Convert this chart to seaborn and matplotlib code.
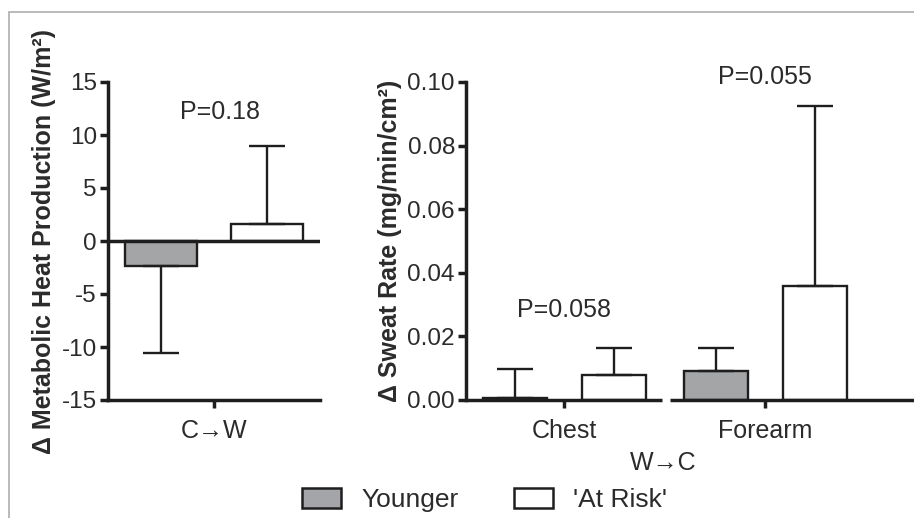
import numpy as np
import pandas as pd
import matplotlib
matplotlib.use("Agg")
import matplotlib.pyplot as plt
import seaborn as sns
from matplotlib.patches import Patch, Rectangle

# data
groups = ["Younger", "'At Risk'"]
heat_cond = ["C\u2192W"]
heat_mean = [-2.4, 1.6]          # Younger, At Risk
heat_err = [8.2, 7.4]
sweat_sites = ["Chest", "Forearm"]
sweat_young = [0.0005, 0.0090]
sweat_risk = [0.0080, 0.0360]
sweat_young_err = [0.0093, 0.0075]
sweat_risk_err = [0.0085, 0.0565]
p_heat = ["P=0.18"]
p_sweat = ["P=0.058", "P=0.055"]

sns.set_style("ticks")
plt.rcParams['font.family'] = ['Liberation Sans', 'DejaVu Sans']
plt.rcParams['axes.unicode_minus'] = False
txt = '#2b2b2b'
ink = '#1e1e1e'
gray = '#a3a5a8'
palette = {groups[0]: gray, groups[1]: 'white'}

fig = plt.figure(figsize=(9.14, 5.18), dpi=100)
fig.patch.set_facecolor('white')
W, H = 914, 518

def px_axes(x0, y0, x1, y1):
    return fig.add_axes([x0 / W, 1 - y1 / H, (x1 - x0) / W, (y1 - y0) / H])

ax1 = px_axes(108, 82, 320, 400)
ax2 = px_axes(466, 82, 914, 400)

heat_df = pd.DataFrame({'cond': heat_cond * 2, 'group': groups,
                        'val': heat_mean, 'err': heat_err})
sweat_df = pd.DataFrame({'site': sweat_sites * 2,
                         'group': [groups[0]] * 2 + [groups[1]] * 2,
                         'val': sweat_young + sweat_risk,
                         'err': sweat_young_err + sweat_risk_err})

sns.barplot(data=heat_df, x='cond', y='val', hue='group', hue_order=groups,
            palette=palette, errorbar=None, width=1.0, gap=0.32,
            edgecolor=ink, linewidth=1.7, legend=False, ax=ax1)
sns.barplot(data=sweat_df, x='site', y='val', hue='group', hue_order=groups,
            palette=palette, errorbar=None, width=0.98, gap=0.35,
            edgecolor=ink, linewidth=1.7, legend=False, ax=ax2)

def one_sided(ax, df, key, order):
    for cont, g in zip(ax.containers, groups):
        sub = df[df['group'] == g].set_index(key).loc[order]
        for bar, v, e in zip(cont, sub['val'], sub['err']):
            xc = bar.get_x() + bar.get_width() / 2
            yerr = [[e], [0]] if v < 0 else [[0], [e]]
            ax.errorbar(xc, v, yerr=yerr, fmt='none', ecolor=ink,
                        elinewidth=1.7, capsize=13, capthick=1.7, zorder=1)

one_sided(ax1, heat_df, 'cond', heat_cond)
one_sided(ax2, sweat_df, 'site', sweat_sites)

for ax in (ax1, ax2):
    ax.set_facecolor('none')
    sns.despine(ax=ax)
    for s in ('left', 'bottom'):
        ax.spines[s].set_linewidth(2.5)
        ax.spines[s].set_color(ink)
    ax.tick_params(axis='both', width=2.5, length=6, color=ink,
                   labelcolor=txt, pad=2)
    ax.tick_params(axis='y', labelsize=17.5)
    ax.tick_params(axis='x', labelsize=18, pad=8)
    ax.set_xlabel('')

ax1.set_xlim(-0.5, 0.5)
ax1.set_ylim(-15, 15)
ax1.set_yticks([-15, -10, -5, 0, 5, 10, 15])
ax1.axhline(0, color=ink, lw=2.5, zorder=3)
ax1.set_ylabel('\u0394 Metabolic Heat Production (W/m\u00b2)', fontsize=18,
               fontweight='bold', color=txt, labelpad=4)
ax1.text(0.03, 12.2, p_heat[0], ha='center', va='center', fontsize=18, color=txt)

ax2.set_xlim(-0.49, 1.74)
ax2.set_ylim(0, 0.10)
ax2.set_yticks(np.arange(0, 0.101, 0.02))
ax2.yaxis.set_major_formatter(matplotlib.ticker.FormatStrFormatter('%.2f'))
ax2.spines['bottom'].set_visible(False)
for seg in ((-0.49, 0.485), (0.525, 1.74)):
    ax2.plot(seg, [0, 0], color=ink, lw=2.5, solid_capstyle='butt',
             clip_on=False, zorder=4)
ax2.set_ylabel('\u0394 Sweat Rate (mg/min/cm\u00b2)', fontsize=18,
               fontweight='bold', color=txt, labelpad=4)
for i, p in enumerate(p_sweat):
    yv = [0.0283, 0.1016][i]
    ax2.text(i, yv, p, ha='center', va='center', fontsize=18, color=txt,
             clip_on=False)

fig.text(663 / W, 1 - 463 / H, 'W\u2192C', ha='center', va='center',
         fontsize=18, color=txt)

handles = [Patch(facecolor=palette[g], edgecolor=ink, linewidth=1.8, label=g)
           for g in groups]
fig.legend(handles=handles, loc='center', bbox_to_anchor=(0.53, 1 - 500 / H),
           ncol=2, frameon=False, fontsize=19, handlelength=1.5,
           handleheight=0.8, handletextpad=0.75, columnspacing=2.1,
           labelcolor=txt)

# thin grey frame round the panel
fig.add_artist(Rectangle((9 / W, -0.01), 1.0, 1 - 12 / H + 0.01,
                         transform=fig.transFigure, fill=False,
                         edgecolor='#b4b4b4', lw=1.3))

fig.savefig('out.png', dpi=100)
